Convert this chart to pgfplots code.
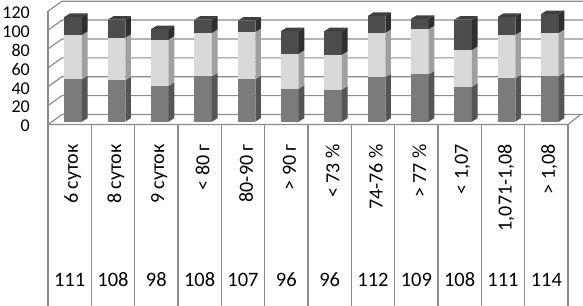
\documentclass[border=0pt]{standalone}
\usepackage{pgfplots}
\pgfplotsset{compat=1.18}
\usepackage{pgfplotstable}
\usepackage{fontspec}
\setmainfont{Carlito}

\definecolor{botF}{HTML}{7B7B7B}
\definecolor{botS}{HTML}{555555}
\definecolor{midF}{HTML}{D9D9D9}
\definecolor{midS}{HTML}{A0A0A0}
\definecolor{topF}{HTML}{4D4D4D}
\definecolor{topT}{HTML}{404040}
\definecolor{topS}{HTML}{2F2F2F}
\definecolor{gridc}{HTML}{8C8C8C}

% a = bottom segment, b = middle segment, c = top segment, t = total (data table)
\pgfplotstableread{
a  b  c  t
45 47 19 111
44 45 19 108
38 49 11 98
48 46 14 108
45 50 12 107
35 37 24 96
34 37 25 96
47 47 18 112
50 48 11 109
37 39 32 108
46 46 19 111
48 46 20 114
}\data

\tikzset{tabfont/.style={font=\fontsize{20.5}{20.5}\selectfont}}

\begin{document}
\begin{tikzpicture}
\begin{axis}[
  x=43.333pt, y=0.944pt,
  xmin=-0.5, xmax=11.5, ymin=0, ymax=120,
  clip=false,
  axis line style={draw=none},
  tick style={draw=none},
  xtick={0,...,11},
  xticklabels={6 суток,8 суток,9 суток,< 80 г,80-90 г,> 90 г,< 73 \%,74-76 \%,> 77 \%,< 1{,}07,1{,}071-1{,}08,> 1{,}08},
  xticklabel style={rotate=90, anchor=east, inner sep=0pt, font=\fontsize{20}{20}\selectfont, yshift=-3pt},
  xticklabel shift=19.5pt,
  ytick={0,20,...,120},
  /pgf/number format/assume math mode=true,
  yticklabel style={font=\fontsize{18}{18}\selectfont, inner sep=0pt, yshift=-1.5pt},
  yticklabel shift=18pt,
]
% back wall grid lines with the oblique part on the left wall
\pgfplotsinvokeforeach{0,20,...,120}{
  \pgfmathsetmacro\gw{#1+10.6}
  \edef\tmp{\noexpand\addplot[gridc, line width=1.2pt, forget plot] coordinates {(-0.5,#1) (-0.177,\gw) (11.85,\gw)};}\tmp
}
% left wall edge, floor front and right edges
\addplot[gridc, line width=1.2pt, forget plot] coordinates {(-0.5,0) (-0.5,120)};
\addplot[gridc, line width=1.2pt, forget plot] coordinates {(-0.5,0) (11.5,0) (11.777,10.06)};
% data table vertical lines
\pgfplotsinvokeforeach{0,...,12}{
  \pgfmathsetmacro\gx{#1-0.5}
  \edef\tmp{\noexpand\addplot[gridc, line width=1.2pt, forget plot] coordinates {(\gx,0) (\gx,-192)};}\tmp
}
% 3D stacked bars
\pgfplotsinvokeforeach{0,...,11}{
  \pgfplotstablegetelem{#1}{a}\of\data \pgfmathsetmacro\yA{3+\pgfplotsretval}
  \pgfplotstablegetelem{#1}{b}\of\data \pgfmathsetmacro\yB{\yA+\pgfplotsretval}
  \pgfplotstablegetelem{#1}{c}\of\data \pgfmathsetmacro\yC{\yB+\pgfplotsretval}
  \pgfplotstablegetelem{#1}{t}\of\data \edef\tv{\pgfplotsretval}
  \pgfmathsetmacro\xL{#1-0.12}
  \pgfmathsetmacro\xR{#1+0.284}
  \pgfmathsetmacro\xS{#1+0.414}
  \pgfmathsetmacro\xT{#1+0.01}
  \pgfmathsetmacro\yO{3+3.7}
  \pgfmathsetmacro\yAd{\yA+3.7}
  \pgfmathsetmacro\yBd{\yB+3.7}
  \pgfmathsetmacro\yCd{\yC+3.7}
  \edef\tmp{%
    \noexpand\addplot[fill=botF, draw=none, forget plot] coordinates {(\xL,3) (\xR,3) (\xR,\yA) (\xL,\yA)};
    \noexpand\addplot[fill=botS, draw=none, forget plot] coordinates {(\xR,3) (\xS,\yO) (\xS,\yAd) (\xR,\yA)};
    \noexpand\addplot[fill=midF, draw=none, forget plot] coordinates {(\xL,\yA) (\xR,\yA) (\xR,\yB) (\xL,\yB)};
    \noexpand\addplot[fill=midS, draw=none, forget plot] coordinates {(\xR,\yA) (\xS,\yAd) (\xS,\yBd) (\xR,\yB)};
    \noexpand\addplot[fill=topF, draw=none, forget plot] coordinates {(\xL,\yB) (\xR,\yB) (\xR,\yC) (\xL,\yC)};
    \noexpand\addplot[fill=topS, draw=none, forget plot] coordinates {(\xR,\yB) (\xS,\yBd) (\xS,\yCd) (\xR,\yC)};
    \noexpand\addplot[fill=topT, draw=none, forget plot] coordinates {(\xL,\yC) (\xR,\yC) (\xS,\yCd) (\xT,\yCd)};
    \noexpand\node[tabfont] at (axis cs:#1,-164.7) {\tv};
  }\tmp
}
\coordinate (O) at (axis cs:-0.5,0);
\end{axis}
\pgfresetboundingbox
\path ([shift={(-48pt,-180.5pt)}]O) rectangle ([shift={(535pt,124.5pt)}]O);
\end{tikzpicture}
\end{document}
